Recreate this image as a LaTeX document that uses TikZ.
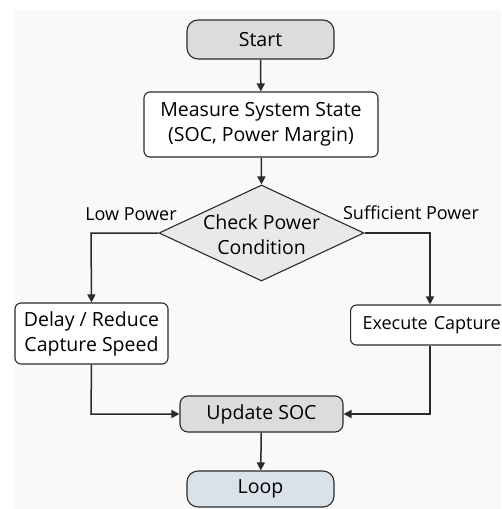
\documentclass[tikz,border=0pt]{standalone}
\usepackage{fontspec}
\setmainfont{Open Sans}
\usetikzlibrary{arrows.meta,shapes.geometric}
\definecolor{bgc}{HTML}{F9F9F9}
\definecolor{grayfill}{HTML}{DCDCDC}
\definecolor{diafill}{HTML}{E9E9E9}
\definecolor{loopfill}{HTML}{D9E1E9}
\definecolor{linec}{HTML}{2A2A2A}
\tikzset{
  box/.style={draw=linec, line width=1.1pt, rounded corners=6pt, fill=white, inner sep=0pt, align=center, font=\fontsize{19.5}{25}\selectfont},
  term/.style={box, rounded corners=11pt},
  flow/.style={draw=linec, line width=1.5pt, -{Triangle[length=8pt,width=8pt]}},
  lbl/.style={font=\fontsize{18}{22}\selectfont, text=black}
}
\begin{document}
\begin{tikzpicture}[x=1pt,y=-1pt]
\useasboundingbox (0,0) rectangle (501,509);
\clip (0,0) rectangle (501,509);
\fill[bgc] (14,10) rectangle (501,509);
\node[term, fill=grayfill, minimum width=147pt, minimum height=39pt] (start) at (260.5,39.5) {Start};
\node[box, minimum width=234pt, minimum height=65pt] (measure) at (261,124.5) {Measure System State\\(SOC, Power Margin)};
\node[diamond, draw=linec, line width=1.1pt, fill=diafill, aspect=2.125, minimum width=205pt, minimum height=96pt, inner sep=0pt] (check) at (261.5,233) {};
\node[font=\fontsize{19.5}{25}\selectfont, align=center] (checktxt) at (261.5,235) {Check Power\\Condition};
\node[box, minimum width=153pt, minimum height=61pt] (delay) at (91.5,333.5) {Delay / Reduce\\Capture Speed};
\node[box, anchor=west, font=\fontsize{18}{22}\selectfont, text width=140pt, align=left, inner xsep=12pt, minimum height=40pt] (exec) at (350,325) {Execute Capture};
\node[term, fill=grayfill, rounded corners=8pt, minimum width=163pt, minimum height=36pt] (update) at (261.5,414) {Update SOC};
\node[term, fill=loopfill, minimum width=147pt, minimum height=36pt] (loop) at (260.5,489) {Loop};
\node[lbl] (lowlbl) at (131,214) {Low Power};
\node[lbl] (sufflbl) at (411,213) {Sufficient Power};
\coordinate (lcorner) at (91,233);
\coordinate (rcorner) at (430,233);
\coordinate (lbot) at (91,414);
\coordinate (rbot) at (430,414);
\draw[flow] (start) -- (measure);
\draw[flow] (measure) -- (check.north);
\draw[flow] (check.west) -- (lcorner) -- (delay.north);
\draw[flow] (check.east) -- (rcorner) -- (rcorner |- exec.north);
\draw[flow] (delay.south) -- (lbot) -- (update.west);
\draw[flow] (rcorner |- exec.south) -- (rbot) -- (update.east);
\draw[flow] (update) -- (loop);
\end{tikzpicture}
\end{document}
